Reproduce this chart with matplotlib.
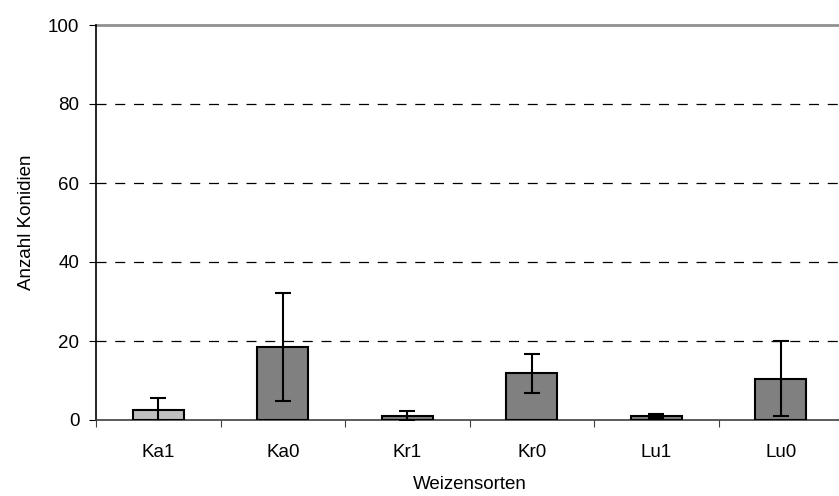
import matplotlib as mpl
mpl.use("Agg")
import matplotlib.pyplot as plt

mpl.rcParams["font.family"] = ["Liberation Sans", "DejaVu Sans"]
mpl.rcParams["font.size"] = 13.5

sorten = ["Ka1", "Ka0", "Kr1", "Kr0", "Lu1", "Lu0"]
mittel = [2.5, 18.5, 1.0, 11.8, 0.9, 10.5]
fehler = [3.1, 13.6, 1.2, 4.9, 0.5, 9.4]
farben = ["#c0c0c0", "#808080", "#808080", "#808080", "#808080", "#808080"]

fig = plt.figure(figsize=(8.39, 4.96), dpi=100)
ax = fig.add_axes([96 / 839, 76 / 496, 747 / 839, 395 / 496])

pos = [i + 0.5 for i in range(len(sorten))]
ax.bar(pos, mittel, width=0.41, color=farben, edgecolor="black",
       linewidth=1.5, zorder=3)
ax.errorbar(pos, mittel, yerr=fehler, fmt="none", ecolor="black",
            elinewidth=1.5, capsize=5.5, capthick=1.5, zorder=4)

ax.set_xlim(0, 6)
ax.set_ylim(0, 100)
ax.set_yticks(range(0, 101, 20))
ax.set_xticks(range(0, 7))
ax.set_xticklabels([])
ax.set_xticks(pos, minor=True)
ax.set_xticklabels(sorten, minor=True)
ax.tick_params(axis="x", which="minor", length=0, pad=17)
ax.tick_params(axis="x", which="major", length=5, direction="out",
               color="#404040")
ax.tick_params(axis="y", length=5, direction="out", pad=7)

for v in range(20, 100, 20):
    ax.axhline(v, color="black", linewidth=0.9, linestyle=(0, (8, 7)),
               zorder=1)
ax.axhline(100, color="#909090", linewidth=2, zorder=1, clip_on=False)

ax.spines["top"].set_visible(False)
ax.spines["right"].set_visible(False)
ax.spines["left"].set_linewidth(1.2)
ax.spines["bottom"].set_color("#404040")
ax.spines["bottom"].set_linewidth(1.2)

ax.set_ylabel("Anzahl Konidien", labelpad=9)
ax.set_xlabel("Weizensorten", labelpad=11)

fig.savefig("out.png", dpi=100)
